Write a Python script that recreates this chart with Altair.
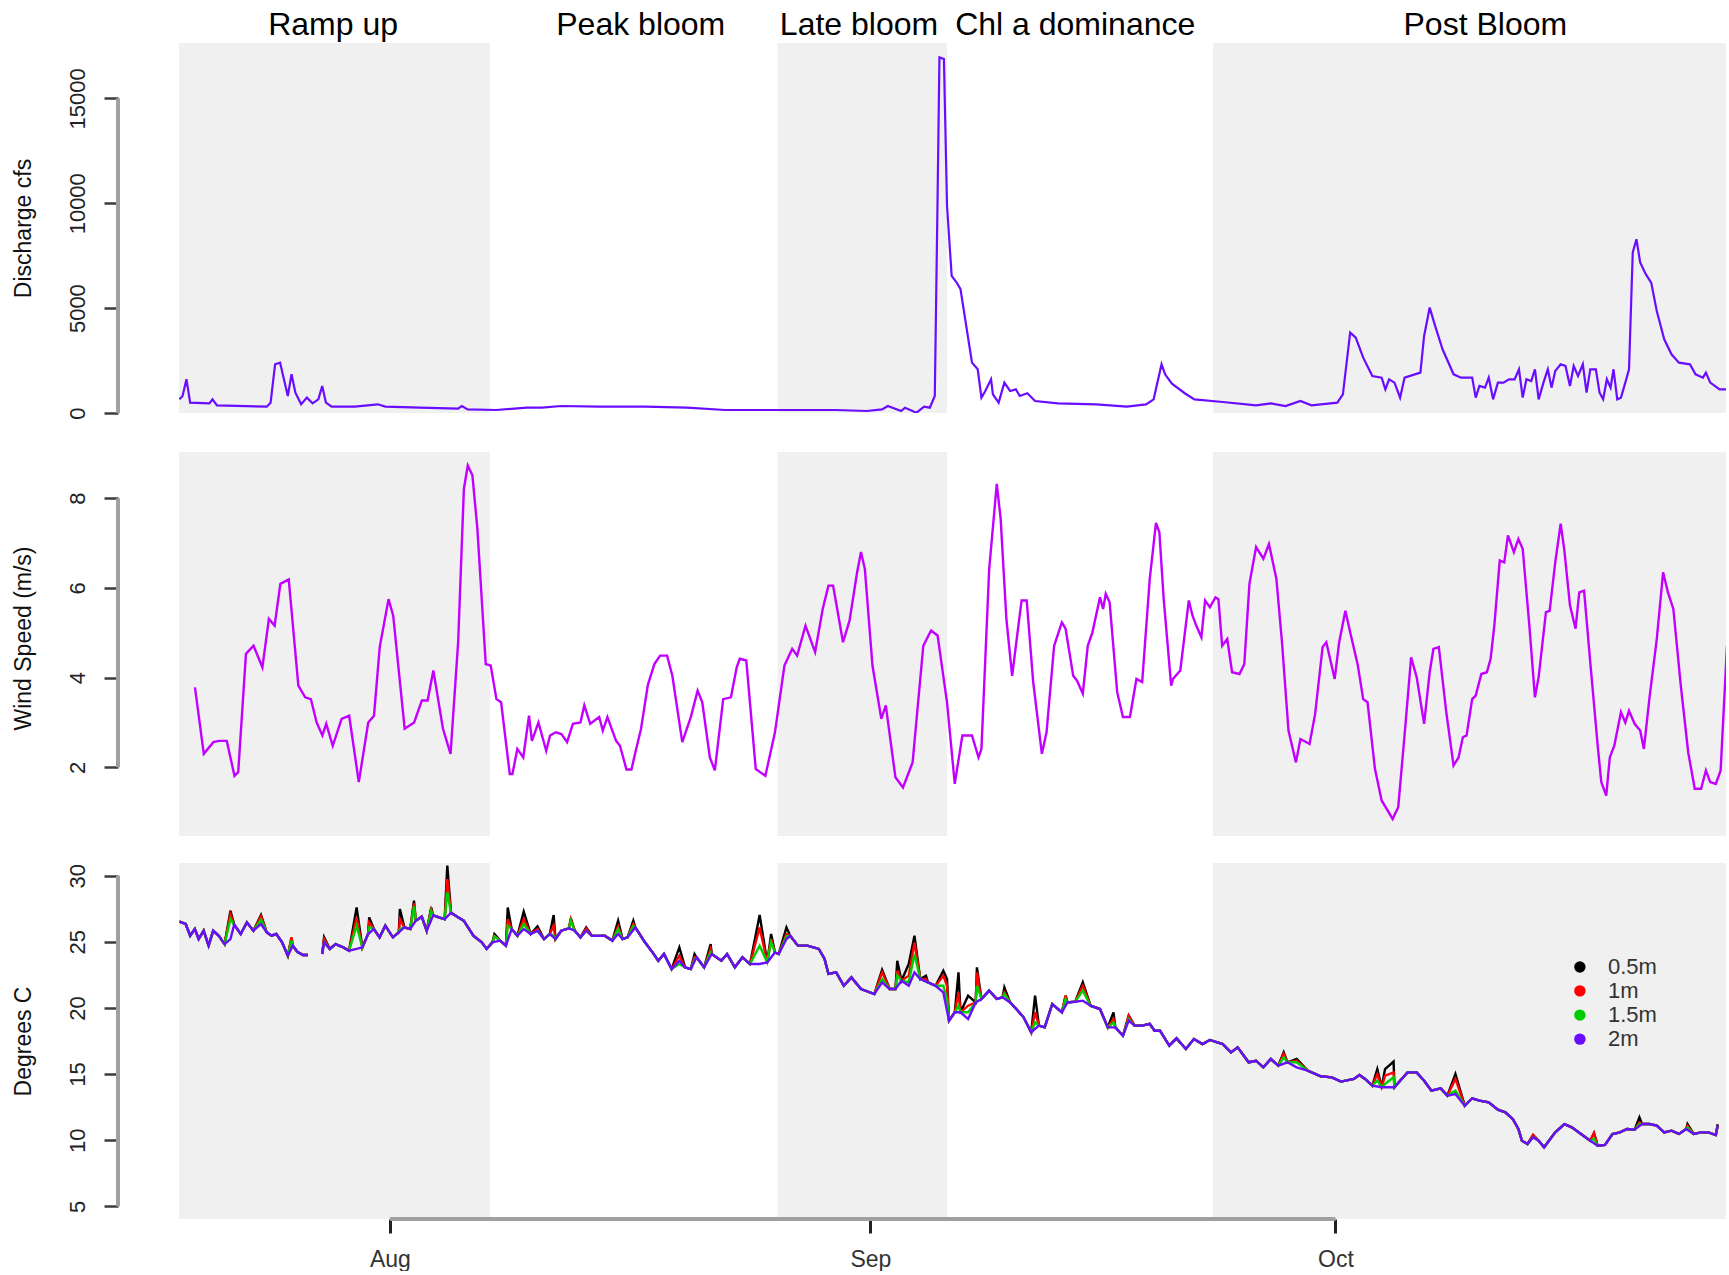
import altair as alt
import pandas as pd

FONT = "Liberation Sans"

# ---------------------------------------------------------------- layout
W = 1547
H_DIS, H_WIND, H_TEMP = 370, 396, 356
PX_PER_DAY = 15.5
X0 = 17.39                         # left edge of plot region, days since 1 July
X1 = X0 + W / PX_PER_DAY           # right edge
ORIGIN = pd.Timestamp("2019-07-01", tz="UTC")

# ---------------------------------------------------------------- data
phase_names = ["Ramp up", "Peak bloom", "Late bloom", "Chl a dominance", "Post Bloom"]
phase_label_days = [27.33, 47.18, 61.26, 75.21, 101.67]
shade_start = [17.39, 56.00, 84.10]
shade_end = [37.45, 66.94, 119.20]

month_days = [31, 62, 92]         # Aug 1, Sep 1, Oct 1

dis_ticks = [0, 5000, 10000, 15000]
wind_ticks = [2, 4, 6, 8]
temp_ticks = [5, 10, 15, 20, 25, 30]

dis_range = [0, 17640]
wind_range = [0.468, 9.03]
wind_domain = [0.468, 9.298]
temp_range = [4.04, 30.96]

dis_days = [17.42, 17.62, 17.87, 18.11, 19.35, 19.55, 19.84, 23.05, 23.30, 23.59, 23.91, 24.16, 24.41,
            24.65, 24.90, 25.27, 25.64, 26.01, 26.38, 26.63, 26.87, 27.24, 28.73, 30.21, 30.70, 32.92,
            35.39, 35.64, 36.01, 37.86, 39.83, 40.82, 42.05, 44.47, 47.45, 50.16, 52.63, 56.08, 59.78,
            61.76, 62.75, 63.12, 63.98, 64.23, 64.97, 65.46, 65.83, 66.15, 66.33, 66.45, 66.74, 66.94,
            67.24, 67.56, 67.81, 68.18, 68.55, 68.92, 69.16, 69.41, 69.78, 69.90, 70.27, 70.64, 71.01,
            71.38, 71.63, 72.12, 72.62, 74.10, 76.57, 78.54, 79.78, 80.27, 80.78, 81.01, 81.45, 82.30,
            82.90, 84.73, 86.88, 87.83, 88.78, 89.74, 90.45, 92.12, 92.48, 92.95, 93.31, 93.79, 94.38,
            94.98, 95.22, 95.46, 95.81, 96.17, 96.46, 97.48, 97.72, 98.08, 98.43, 98.91, 99.62, 100.10,
            100.82, 101.05, 101.29, 101.65, 101.89, 102.17, 102.48, 102.84, 103.20, 103.56, 103.84,
            104.08, 104.32, 104.63, 104.87, 105.11, 105.42, 105.70, 105.94, 106.18, 106.53, 106.84,
            107.13, 107.37, 107.65, 107.96, 108.20, 108.44, 108.80, 109.04, 109.27, 109.51, 109.75,
            109.94, 110.18, 110.42, 110.70, 110.94, 111.18, 111.42, 111.66, 112.02, 112.37, 112.73,
            113.21, 113.68, 114.16, 114.87, 115.23, 115.71, 115.90, 116.18, 116.78, 117.33]
dis_vals = [652, 811, 1607, 493, 461, 652, 366, 302, 493, 2322, 2402, 1607, 811,
            1845, 970, 414, 732, 461, 652, 1288, 493, 302, 302, 414, 302, 254,
            207, 334, 175, 143, 254, 254, 334, 302, 302, 254, 143, 143, 143,
            95, 175, 334, 95, 254, 16, 302, 254, 811, 10196, 16956, 16876, 9878,
            6537, 6219, 5901, 4151, 2402, 2084, 732, 1050, 1607, 891, 493, 1447, 1050,
            1129, 811, 938, 573, 461, 414, 302, 414, 652, 2322, 1845, 1400, 930,
            652, 525, 366, 461, 334, 573, 366, 493, 891, 3833, 3595, 2640, 1766,
            1686, 1129, 1607, 1447, 732, 1686, 1925, 3674, 5026, 4151, 3038, 1845, 1686,
            1686, 732, 1288, 1209, 1686, 652, 1447, 1447, 1607, 1607, 2084,
            732, 1607, 1527, 2084, 652, 1447, 2084, 1209, 2004, 2322, 2243,
            1288, 2243, 1766, 2322, 970, 2084, 2084, 970, 652, 1607, 1209,
            2084, 652, 732, 1447, 2084, 7651, 8287, 7174, 6617, 6219, 4867,
            3515, 2799, 2402, 2322, 1845, 1686, 1925, 1447, 1129, 1129]

wind_days = [18.42, 18.99, 19.61, 19.98, 20.47, 20.97, 21.21, 21.71, 22.20, 22.77, 23.19, 23.56, 23.93,
             24.47, 25.09, 25.53, 25.90, 26.27, 26.64, 26.89, 27.31, 27.88, 28.37, 28.99, 29.60, 29.97,
             30.34, 30.91, 31.21, 31.95, 32.56, 33.06, 33.43, 33.80, 34.42, 34.91, 35.40, 35.77, 36.02,
             36.32, 36.64, 37.18, 37.50, 37.87, 38.17, 38.73, 38.90, 39.22, 39.60, 39.97, 40.16, 40.58,
             41.08, 41.33, 41.70, 42.06, 42.43, 42.80, 43.29, 43.54, 43.92, 44.50, 44.73, 45.03, 45.59,
             45.84, 46.26, 46.58, 46.83, 47.20, 47.64, 48.06, 48.43, 48.88, 49.22, 49.86, 50.41, 50.85,
             51.15, 51.64, 51.96, 52.50, 53.00, 53.37, 53.57, 53.99, 54.60, 55.22, 55.84, 56.45, 56.95,
             57.27, 57.81, 58.43, 58.92, 59.29, 59.59, 60.23, 60.65, 61.14, 61.39, 61.64, 62.13, 62.70,
             62.99, 63.61, 64.10, 64.72, 65.41, 65.91, 66.33, 66.94, 67.44, 67.93, 68.55, 68.97, 69.16,
             69.66, 70.15, 70.40, 70.77, 71.14, 71.75, 72.08, 72.50, 73.06, 73.36, 73.85, 74.35, 74.59,
             75.08, 75.33, 75.70, 76.02, 76.32, 76.81, 77.01, 77.18, 77.43, 77.92, 78.29, 78.74, 79.16,
             79.53, 80.02, 80.42, 80.64, 80.92, 81.40, 81.52, 81.99, 82.54, 82.78, 83.02, 83.35, 83.59,
             83.90, 84.26, 84.45, 84.69, 85.02, 85.33, 85.81, 86.12, 86.45, 86.88, 87.35, 87.71, 88.19,
             88.55, 88.97, 89.45, 89.74, 90.33, 90.69, 91.17, 91.41, 91.95, 92.24, 92.64, 92.95, 93.43,
             93.79, 94.07, 94.55, 94.98, 95.69, 96.05, 96.53, 96.88, 97.24, 97.72, 98.08, 98.32, 98.67,
             99.15, 99.62, 99.94, 100.22, 100.46, 100.82, 101.05, 101.41, 101.77, 102.01, 102.25,
             102.60, 102.89, 103.13, 103.51, 103.80, 104.08, 104.51, 104.87, 105.11, 105.58, 105.82,
             106.18, 106.53, 106.77, 107.13, 107.49, 107.73, 108.04, 108.44, 108.92, 109.15, 109.47,
             109.70, 109.99, 110.42, 110.70, 110.94, 111.30, 111.66, 111.90, 112.25, 112.73, 113.14,
             113.45, 113.80, 114.28, 114.76, 115.18, 115.59, 115.90, 116.18, 116.54, 116.85, 117.26]
wind_vals = [3.78, 2.30, 2.56, 2.59, 2.59, 1.81, 1.89, 4.53, 4.71, 4.23, 5.31, 5.16, 6.09,
             6.19, 3.82, 3.56, 3.52, 3.00, 2.71, 2.97, 2.48, 3.08, 3.15, 1.67, 3.00, 3.15,
             4.68, 5.75, 5.38, 2.86, 3.00, 3.49, 3.49, 4.16, 2.86, 2.30, 4.79, 8.21, 8.73,
             8.51, 7.32, 4.30, 4.27, 3.52, 3.45, 1.85, 1.85, 2.41, 2.22, 3.15, 2.59, 3.00,
             2.37, 2.71, 2.78, 2.74, 2.56, 2.97, 3.00, 3.38, 2.97, 3.12, 2.82, 3.12, 2.59,
             2.48, 1.95, 1.95, 2.33, 2.86, 3.84, 4.30, 4.49, 4.49, 4.04, 2.56, 3.12, 3.71,
             3.45, 2.22, 1.93, 3.52, 3.56, 4.23, 4.42, 4.38, 1.96, 1.81, 2.78, 4.27, 4.64,
             4.49, 5.16, 4.57, 5.53, 6.05, 6.05, 4.79, 5.27, 6.35, 6.80, 6.42, 4.27, 3.08,
             3.38, 1.78, 1.55, 2.11, 4.71, 5.05, 4.94, 3.45, 1.63, 2.71, 2.71, 2.22, 2.41,
             6.42, 8.32, 7.54, 5.31, 4.04, 5.72, 5.72, 3.90, 2.30, 2.78, 4.71, 5.23, 5.09,
             4.04, 3.93, 3.64, 4.71, 5.01, 5.79, 5.53, 5.87, 5.68, 3.67, 3.12, 3.12, 3.97,
             3.90, 6.20, 7.45, 7.24, 5.75, 3.82, 3.97, 4.16, 5.72, 5.38, 5.16, 4.90, 5.72,
             5.57, 5.79, 5.75, 4.71, 4.86, 4.12, 4.08, 4.30, 6.09, 6.91, 6.65, 6.98, 6.20,
             4.79, 2.82, 2.11, 2.63, 2.52, 3.19, 4.68, 4.79, 3.97, 4.79, 5.49, 5.01, 4.30,
             3.52, 3.45, 1.96, 1.26, 0.85, 1.11, 3.00, 4.45, 4.01, 2.97, 4.12, 4.64, 4.68,
             3.23, 2.04, 2.22, 2.67, 2.71, 3.52, 3.60, 4.08, 4.12, 4.42, 5.16,
             6.61, 6.57, 7.17, 6.80, 7.09, 6.87, 5.16, 3.56, 4.01, 5.46, 5.49,
             6.57, 7.43, 6.83, 5.61, 5.09, 5.90, 5.94, 4.34, 2.48, 1.67, 1.37,
             2.22, 2.48, 3.23, 3.00, 3.26, 2.97, 2.82, 2.41, 3.52, 4.86, 6.35,
             5.90, 5.53, 3.82, 2.33, 1.52, 1.52, 1.93, 1.67, 1.63, 1.93, 4.71]

# 2 m water temperature (two logger segments, gap in late July)
temp2_days_a = [17.42, 17.82, 18.11, 18.41, 18.66, 18.98, 19.30, 19.60, 19.96, 20.33, 20.71, 20.95,
                21.37, 21.77, 22.19, 22.68, 23.05, 23.35, 23.67, 24.04, 24.41, 24.73, 25.02, 25.39, 25.71]
temp2_vals_a = [26.52, 26.35, 25.46, 25.97, 25.21, 25.84, 24.71, 25.84, 25.46, 24.83, 25.21, 26.30,
                25.59, 26.47, 25.84, 26.35, 25.72, 25.46, 25.59, 24.96, 23.95, 24.71, 24.25, 24.00, 24.00]
temp2_days_b = [26.63, 26.75, 27.12, 27.49, 27.99, 28.36, 28.85, 29.22, 29.59, 29.96, 30.33, 30.70,
                31.19, 31.57, 31.93, 32.31, 32.67, 33.05, 33.37, 33.79, 34.16, 34.53, 34.94, 35.39,
                35.76, 36.38, 36.92, 37.24, 37.61, 38.11, 38.48, 38.85, 39.22, 39.63, 40.08, 40.52,
                40.94, 41.31, 41.68, 42.05, 42.55, 42.92, 43.29, 43.66, 44.03, 44.48, 44.85, 45.35,
                45.72, 46.01, 46.33, 46.83, 47.45, 47.94, 48.31, 48.68, 49.17, 49.67, 50.04, 50.41,
                50.78, 51.27, 51.76, 52.38, 52.75, 53.25, 53.74, 54.23, 54.85, 55.34, 55.84, 56.08,
                56.58, 56.82, 57.32, 57.93, 58.67, 59.04, 59.29, 59.79, 60.28, 60.77, 61.39, 62.25,
                62.75, 63.24, 63.61, 64.00, 64.47, 64.84, 65.21, 65.71, 66.20, 66.70, 67.07, 67.44,
                67.81, 68.30, 68.79, 69.16, 69.66, 70.15, 70.52, 71.01, 71.51, 71.88, 72.37, 72.87,
                73.24, 73.73, 74.35, 74.71, 75.21, 75.70, 76.20, 76.81, 77.31, 77.80, 78.29, 78.66,
                79.04, 79.53, 80.02, 80.33, 80.68, 81.28, 81.75, 82.35, 82.87, 83.42, 83.90, 84.38,
                84.73, 85.26, 85.69, 86.40, 86.88, 87.35, 87.83, 88.31, 88.90, 89.50, 90.21, 91.05,
                91.76, 92.36, 93.19, 93.55, 93.91, 94.38, 94.98, 95.81, 96.17, 96.65, 97.24, 97.72,
                98.19, 98.79, 99.22, 99.74, 100.34, 100.82, 101.29, 101.89, 102.48, 102.96, 103.44,
                103.80, 104.03, 104.39, 104.75, 105.11, 105.46, 106.18, 106.77, 107.25, 107.84,
                108.44, 108.92, 109.39, 109.87, 110.35, 110.82, 111.30, 111.78, 112.25, 112.73,
                113.21, 113.68, 114.16, 114.63, 115.11, 115.59, 116.06, 116.54, 116.66]
temp2_vals_b = [24.08, 24.96, 24.46, 24.83, 24.58, 24.33, 24.46, 24.58, 25.59, 25.97, 25.34, 26.22,
                25.34, 25.72, 26.09, 25.97, 26.60, 26.90, 25.84, 27.00, 26.85, 26.72, 27.20, 26.85,
                26.60, 25.46, 24.96, 24.46, 24.96, 25.09, 24.71, 25.97, 25.46, 25.97, 25.59, 25.84,
                25.21, 25.59, 25.21, 25.84, 26.02, 25.84, 25.34, 25.84, 25.46, 25.45, 25.46, 25.09,
                25.59, 25.21, 25.34, 26.09, 24.96, 24.20, 23.57, 24.08, 22.94, 23.57, 23.07, 22.94,
                23.83, 23.07, 24.08, 23.57, 24.08, 23.07, 23.83, 23.32, 23.32, 23.45, 24.20, 24.08,
                25.21, 25.46, 24.71, 24.71, 24.46, 23.70, 22.57, 22.69, 21.68, 22.31, 21.43, 21.05,
                21.94, 21.43, 21.43, 22.06, 21.68, 22.69, 22.19, 21.94, 21.68, 21.18, 19.04, 19.67,
                19.67, 19.16, 20.42, 20.68, 21.31, 20.68, 20.80, 20.42, 19.79, 19.29, 18.16, 18.66,
                18.53, 20.30, 19.67, 20.42, 20.47, 20.55, 20.17, 19.92, 18.53, 18.53, 17.90, 19.04,
                18.66, 18.66, 18.79, 18.28, 18.28, 17.15, 17.70, 16.90, 17.65, 17.27, 17.58, 17.40,
                17.27, 16.64, 17.02, 15.89, 16.01, 15.51, 16.14, 15.64, 15.89, 15.51, 15.26, 14.83,
                14.75, 14.43, 14.63, 14.93, 14.63, 14.12, 14.00, 14.00, 14.50, 15.13, 15.13, 14.50,
                13.75, 13.92, 13.37, 13.49, 12.61, 13.17, 12.99, 12.86, 12.31, 12.11, 11.60,
                10.85, 9.96, 9.71, 10.22, 9.96, 9.46, 10.59, 11.22, 10.97, 10.47,
                9.96, 9.58, 9.64, 10.47, 10.59, 10.85, 10.80, 11.22, 11.22, 11.10,
                10.59, 10.72, 10.47, 10.85, 10.47, 10.59, 10.59, 10.39, 11.10]

# afternoon warm spikes of the shallower loggers
spike_days = [20.71, 22.68, 24.65, 26.75, 28.85, 29.66, 31.64, 32.55, 33.66, 34.70, 37.74, 38.60,
              39.59, 40.57, 41.56, 42.67, 43.66, 45.72, 46.70, 49.62, 50.65, 51.69, 54.80, 55.59,
              56.58, 62.70, 63.73, 64.47, 64.84, 65.58, 66.70, 66.94, 67.68, 68.30, 68.87, 70.64,
              72.62, 74.59, 75.70, 77.68, 78.66, 88.66, 89.50, 94.70, 95.20, 95.75, 99.70, 104.75,
              108.68, 111.61, 114.71, 116.66]
spike_05m = [27.35, 27.03, 25.30, 25.34, 27.60, 26.85, 27.48, 28.11, 27.60, 30.76, 25.59, 27.60,
             27.28, 26.17, 27.03, 26.77, 26.09, 26.60, 26.60, 24.58, 24.08, 24.83, 27.03, 25.59,
             26.09, 22.89, 23.57, 23.32, 25.46, 22.44, 22.81, 22.19, 22.69, 20.93, 23.07, 21.56,
             20.93, 20.93, 21.94, 19.67, 19.42, 16.64, 16.14, 15.38, 15.38, 15.94, 15.00, 10.39,
             10.54, 11.73, 11.22, 11.20]
spike_1m = [27.10, 26.93, 25.34, 25.20, 26.85, 26.47, 26.72, 27.90, 27.45, 29.75, 25.46, 26.72,
            26.72, 25.97, 26.22, 26.72, 26.00, 26.17, 26.35, 23.95, 23.83, 24.46, 26.09, 25.21,
            25.59, 22.69, 22.81, 22.44, 24.96, 22.19, 22.44, 21.68, 21.18, 20.17, 22.69, 21.18,
            19.67, 20.93, 21.68, 19.16, 19.42, 16.52, 16.01, 15.00, 14.88, 15.13, 14.63, 10.39,
            10.54, 11.35, 11.10, 11.10]
spike_15m = [26.72, 26.67, 25.09, 25.00, 26.22, 26.09, 25.97, 27.70, 27.35, 28.74, 25.41, 26.22,
             26.35, 25.84, 25.46, 26.60, 25.84, 25.97, 26.20, 23.32, 23.65, 24.20, 24.71, 24.96,
             25.41, 22.19, 22.44, 21.94, 24.08, 21.99, 21.68, 20.68, 20.17, 19.67, 21.68, 21.05,
             18.91, 20.68, 21.31, 18.91, 19.16, 16.27, 15.89, 14.50, 14.25, 14.75, 13.75, 10.22,
             10.09, 11.22, 10.97, 11.05]

depth_names = ["0.5m", "1m", "1.5m", "2m"]
depth_colors = ["#000000", "#ff0000", "#00cd00", "#6a0cff"]

# legend key placement inside the temperature panel (time, °C), as in the figure
key_symbol_day = 107.77
key_label_day = 109.58
key_row_values = [23.09, 21.29, 19.46, 17.64]

DIS_COLOR = "#6a0cff"
WIND_COLOR = "#c300ff"
SHADE = "#f0f0f0"


# ---------------------------------------------------------------- helpers
def iso(d):
    return (ORIGIN + pd.Timedelta(days=float(d))).strftime("%Y-%m-%dT%H:%M:%SZ")


def ms(d):
    return int((ORIGIN + pd.Timedelta(days=float(d))).timestamp() * 1000)


XSCALE = alt.Scale(type="utc", domain=[ms(X0), ms(X1)])

X_AXIS = alt.Axis(values=[ms(d) for d in month_days], labelExpr="utcFormat(datum.value, '%b')",
                  domain=False, grid=False, tickSize=14, tickWidth=3, tickColor="#222222",
                  labelFont=FONT, labelFontSize=23, labelColor="#333333", labelPadding=15,
                  labelFlush=False, title=None)


def xenc(field, axis=None):
    return alt.X(f"{field}:T", scale=XSCALE, axis=axis, title=None)


def yaxis(title, ticks, height):
    return alt.Axis(values=ticks, format="d", title=title, domain=False, grid=False,
                    tickSize=14, tickWidth=2.5, tickColor="#3c3c3c", offset=61,
                    labelAngle=270, labelAlign="center", labelBaseline="middle", labelPadding=27,
                    labelFont=FONT, labelFontSize=22, labelColor="#222222", labelFlush=False,
                    labelOverlap=False,
                    titleFont=FONT, titleFontSize=23, titleFontWeight="normal", titleColor="#111111",
                    titleAngle=270, titleX=-95, titleY=height / 2, titleAlign="center",
                    titleBaseline="middle")


def panel(height, domain, rng, ticks, title, lines, x_axis=None, extra=None):
    ysc = alt.Scale(domain=domain, nice=False, zero=False)
    ax = yaxis(title, ticks, height)
    shade_df = pd.DataFrame({"start": [iso(d) for d in shade_start],
                             "end": [iso(d) for d in shade_end],
                             "ylo": [rng[0]] * len(shade_start),
                             "yhi": [rng[1]] * len(shade_start)})
    shade = alt.Chart(shade_df).mark_rect(color=SHADE, clip=True).encode(
        x=xenc("start", x_axis), x2="end:T",
        y=alt.Y("ylo:Q", scale=ysc, axis=ax), y2="yhi:Q")
    yline_df = pd.DataFrame({"lo": [ticks[0]], "hi": [ticks[-1]]})
    yline = alt.Chart(yline_df).mark_rule(color="#a0a0a0", strokeWidth=4).encode(
        x=alt.value(-61), y=alt.Y("lo:Q", scale=ysc, axis=ax), y2="hi:Q")
    layers = [shade]
    for ln in lines:
        layers.append(ln(ysc, ax, x_axis))
    layers.append(yline)
    if extra is not None:
        layers.extend(extra(ysc, ax))
    return alt.layer(*layers).properties(width=W, height=height)


# ---------------------------------------------------------------- panel 1: discharge
dis_df = pd.DataFrame({"date": [iso(d) for d in dis_days], "value": dis_vals})


def dis_line(ysc, ax, xa):
    return alt.Chart(dis_df).mark_line(color=DIS_COLOR, strokeWidth=2.2, clip=True).encode(
        x=xenc("date", xa), y=alt.Y("value:Q", scale=ysc, axis=ax))


lab_df = pd.DataFrame({"date": [iso(d) for d in phase_label_days], "name": phase_names})


def dis_extra(ysc, ax):
    return [alt.Chart(lab_df).mark_text(font=FONT, fontSize=32, color="black", align="center",
                                         baseline="middle").encode(
        x=xenc("date"), y=alt.value(-18.5), text="name:N")]


p1 = panel(H_DIS, dis_range, dis_range, dis_ticks, "Discharge cfs", [dis_line], extra=dis_extra)

# ---------------------------------------------------------------- panel 2: wind
wind_df = pd.DataFrame({"date": [iso(d) for d in wind_days], "value": wind_vals})


def wind_line(ysc, ax, xa):
    return alt.Chart(wind_df).mark_line(color=WIND_COLOR, strokeWidth=2.4, clip=True).encode(
        x=xenc("date", xa), y=alt.Y("value:Q", scale=ysc, axis=ax))


p2 = panel(H_WIND, wind_domain, wind_range, wind_ticks, "Wind Speed (m/s)", [wind_line])

# ---------------------------------------------------------------- panel 3: temperature
segments = [(temp2_days_a, temp2_vals_a), (temp2_days_b, temp2_vals_b)]


def depth_rows(name, spikes):
    rows = []
    for seg_id, (days, vals) in enumerate(segments):
        pts = dict(zip(days, vals))
        lo, hi = days[0], days[-1]
        if spikes is not None:
            for d, v in zip(spike_days, spikes):
                if lo <= d <= hi:
                    near = [b for b in days if abs(b - d) <= 0.06]
                    pts[near[0] if near else d] = v
        for d in sorted(pts):
            rows.append({"date": iso(d), "value": pts[d], "depth": name, "seg": seg_id})
    return pd.DataFrame(rows)


temp_dfs = [depth_rows("0.5m", spike_05m), depth_rows("1m", spike_1m),
            depth_rows("1.5m", spike_15m), depth_rows("2m", None)]

COLOR_SCALE = alt.Scale(domain=depth_names, range=depth_colors)


def make_temp_line(df):
    def f(ysc, ax, xa):
        return alt.Chart(df).mark_line(strokeWidth=2.4, clip=True).encode(
            x=xenc("date", xa), y=alt.Y("value:Q", scale=ysc, axis=ax),
            color=alt.Color("depth:N", scale=COLOR_SCALE, legend=None),
            detail="seg:N")
    return f


key_df = pd.DataFrame({"sym": [iso(key_symbol_day)] * len(depth_names),
                       "lab": [iso(key_label_day)] * len(depth_names),
                       "value": key_row_values,
                       "depth": depth_names})

xline_df = pd.DataFrame({"a": [iso(month_days[0])], "b": [iso(month_days[-1])]})


def temp_extra(ysc, ax):
    key_pts = alt.Chart(key_df).mark_point(filled=True, size=130, opacity=1, strokeWidth=0).encode(
        x=xenc("sym", X_AXIS), y=alt.Y("value:Q", scale=ysc, axis=ax),
        color=alt.Color("depth:N", scale=COLOR_SCALE, legend=None))
    key_txt = alt.Chart(key_df).mark_text(font=FONT, fontSize=22, color="#333333", align="left",
                                          baseline="middle").encode(
        x=xenc("lab", X_AXIS), y=alt.Y("value:Q", scale=ysc, axis=ax), text="depth:N")
    xline = alt.Chart(xline_df).mark_rule(color="#a0a0a0", strokeWidth=4).encode(
        x=xenc("a", X_AXIS), x2="b:T", y=alt.value(H_TEMP))
    return [key_pts, key_txt, xline]


p3 = panel(H_TEMP, temp_range, temp_range, temp_ticks, "Degrees C",
           [make_temp_line(d) for d in temp_dfs], x_axis=X_AXIS, extra=temp_extra)

chart = alt.vconcat(p1, p2, p3, spacing=27, bounds="flush").properties(
    padding={"left": 12, "top": 8, "right": 0, "bottom": 0},
    background="white",
).configure(font=FONT).configure_view(stroke=None)

chart.save("out.html", embed_options={"renderer": "svg", "actions": False})
